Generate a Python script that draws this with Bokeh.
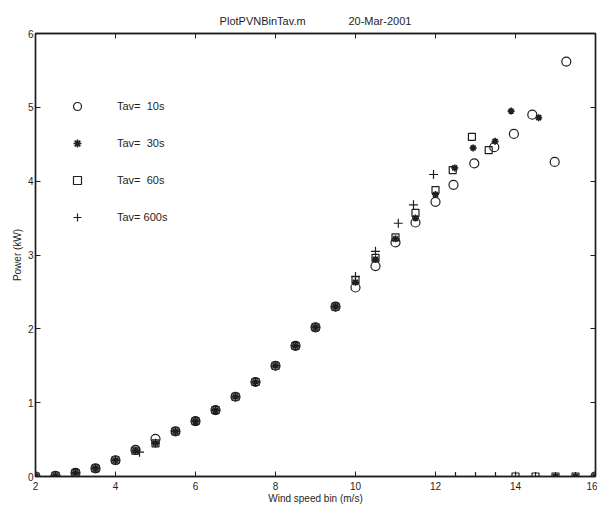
from bokeh.plotting import figure
from bokeh.models import LinearAxis, Legend, LegendItem, Range1d, FixedTicker
from bokeh.embed import file_html
from bokeh.resources import INLINE

# Tav = 10 s (open circles)
x10 = [2.0, 2.5, 3.0, 3.5, 4.0, 4.5, 5.0, 5.5, 6.0, 6.5, 7.0, 7.5, 8.0, 8.5, 9.0, 9.5,
       10.0, 10.5, 11.0, 11.5, 12.0, 12.45, 12.97, 13.47, 13.96, 14.42, 14.98, 15.27, 16.0]
p10 = [0.0, 0.01, 0.05, 0.11, 0.22, 0.36, 0.51, 0.61, 0.75, 0.90, 1.08, 1.28, 1.50, 1.77, 2.02, 2.30,
       2.56, 2.85, 3.17, 3.44, 3.72, 3.95, 4.24, 4.46, 4.64, 4.90, 4.26, 5.62, 0.0]

# Tav = 30 s (asterisks)
x30 = [2.0, 2.5, 3.0, 3.5, 4.0, 4.5, 5.0, 5.5, 6.0, 6.5, 7.0, 7.5, 8.0, 8.5, 9.0, 9.5,
       10.0, 10.5, 11.0, 11.5, 12.0, 12.48, 12.94, 13.49, 13.89, 14.58, 15.0, 15.5, 16.0]
p30 = [0.0, 0.01, 0.05, 0.11, 0.22, 0.35, 0.45, 0.61, 0.75, 0.90, 1.08, 1.28, 1.50, 1.77, 2.02, 2.30,
       2.63, 2.94, 3.22, 3.50, 3.82, 4.18, 4.45, 4.54, 4.95, 4.86, 0.0, 0.0, 0.0]

# Tav = 60 s (open squares)
x60 = [2.0, 2.5, 3.0, 3.5, 4.0, 4.5, 5.0, 5.5, 6.0, 6.5, 7.0, 7.5, 8.0, 8.5, 9.0, 9.5,
       10.0, 10.5, 11.0, 11.5, 12.0, 12.43, 12.91, 13.33, 14.0, 14.5, 15.0, 15.5, 16.0]
p60 = [0.0, 0.01, 0.05, 0.11, 0.22, 0.35, 0.45, 0.61, 0.75, 0.90, 1.08, 1.28, 1.50, 1.77, 2.02, 2.30,
       2.66, 2.96, 3.24, 3.57, 3.88, 4.15, 4.60, 4.42, 0.0, 0.0, 0.0, 0.0, 0.0]

# Tav = 600 s (plus signs)
x600 = [2.0, 2.5, 3.0, 3.5, 4.0, 4.6, 5.0, 5.5, 6.0, 6.5, 7.0, 7.5, 8.0, 8.5, 9.0, 9.5,
        10.0, 10.5, 11.07, 11.45, 11.95, 12.5, 13.0, 13.5, 14.0, 14.5, 15.0, 15.5, 16.0]
p600 = [0.0, 0.01, 0.05, 0.11, 0.22, 0.33, 0.45, 0.61, 0.75, 0.90, 1.08, 1.28, 1.50, 1.77, 2.02, 2.30,
        2.71, 3.05, 3.43, 3.68, 4.09, 0.0, 0.0, 0.0, 0.0, 0.0, 0.0, 0.0, 0.0]

labels = ["Tav=\u00a0\u00a010s", "Tav=\u00a0\u00a030s", "Tav=\u00a0\u00a060s", "Tav=\u00a0600s"]
xticks = [2, 4, 6, 8, 10, 12, 14, 16]
yticks = [0, 1, 2, 3, 4, 5, 6]

FONT = "Liberation Sans"
INK = "#1e1e1e"

p = figure(width=597, height=510, output_backend="svg", toolbar_location=None,
           x_range=Range1d(2, 16), y_range=Range1d(0, 6),
           min_border_left=35, min_border_right=2, min_border_top=33, min_border_bottom=34,
           x_axis_label="Wind speed bin (m/s)", y_axis_label="Power (kW)",
           title="PlotPVNBinTav.m" + "\u00a0" * 14 + "20-Mar-2001")
p.outline_line_color = INK
p.outline_line_width = 1.4
p.xgrid.visible = False
p.ygrid.visible = False
p.title.align = "center"
p.title.text_font = FONT
p.title.text_font_size = "11px"
p.title.text_font_style = "normal"
p.title.text_color = INK
p.title.standoff = 14

def style_axis(ax, show_labels=True):
    ax.axis_line_color = INK
    ax.axis_line_width = 1.4
    ax.major_tick_in = 5
    ax.major_tick_out = 0
    ax.major_tick_line_color = INK
    ax.minor_tick_line_color = None
    ax.major_label_text_font = FONT
    ax.major_label_text_font_size = "10px"
    ax.major_label_text_color = INK
    ax.major_label_standoff = 2
    ax.axis_label_text_font = FONT
    ax.axis_label_text_font_size = "10px"
    ax.axis_label_text_font_style = "normal"
    ax.axis_label_text_color = INK
    ax.axis_label_standoff = 2
    if not show_labels:
        ax.major_label_text_font_size = "0px"
        ax.major_label_text_alpha = 0

p.xaxis.ticker = FixedTicker(ticks=xticks)
p.yaxis.ticker = FixedTicker(ticks=yticks)
style_axis(p.xaxis[0])
style_axis(p.yaxis[0])
p.xaxis[0].major_label_standoff = 5
p.xaxis[0].axis_label_standoff = 0
p.yaxis[0].major_label_orientation = "horizontal"

top_ax = LinearAxis(ticker=FixedTicker(ticks=xticks))
style_axis(top_ax, False)
right_ax = LinearAxis(ticker=FixedTicker(ticks=yticks))
style_axis(right_ax, False)
p.add_layout(top_ax, "above")
p.add_layout(right_ax, "right")

r10 = p.scatter(x10, p10, marker="circle", size=9, fill_color=None, line_color=INK, line_width=1.2)
r30 = p.scatter(x30, p30, marker="asterisk", size=7, line_color=INK, line_width=1.7)
r60 = p.scatter(x60, p60, marker="square", size=7, fill_color=None, line_color=INK, line_width=1.2)
r600 = p.scatter(x600, p600, marker="cross", size=9, line_color=INK, line_width=1.2)

legend = Legend(items=[LegendItem(label=labels[0], renderers=[r10]),
                       LegendItem(label=labels[1], renderers=[r30]),
                       LegendItem(label=labels[2], renderers=[r60]),
                       LegendItem(label=labels[3], renderers=[r600])],
                location=(32, 249), padding=0, margin=0, spacing=17,
                glyph_width=20, glyph_height=20, label_height=20, label_standoff=30,
                border_line_color=None, background_fill_alpha=0,
                label_text_font=FONT, label_text_font_size="11px", label_text_color=INK)
p.add_layout(legend, "center")

open("out.html", "w").write(file_html(p, INLINE))
